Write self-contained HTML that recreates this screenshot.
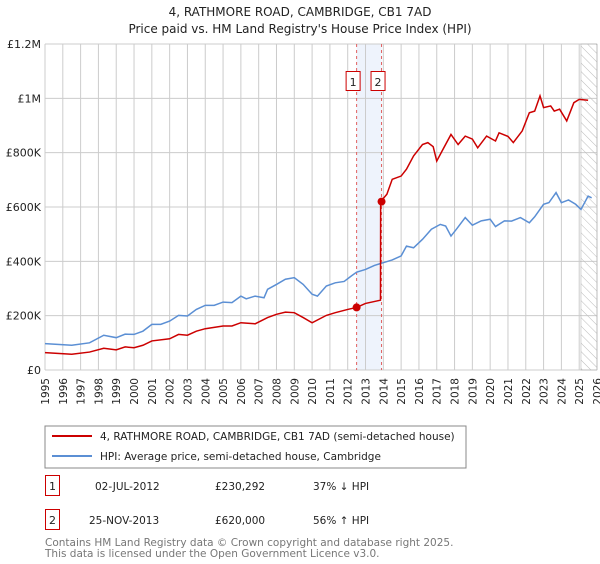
<!DOCTYPE html>
<html><head><meta charset="utf-8"><style>
body{margin:0;background:#fff;font-family:"DejaVu Sans","Liberation Sans",sans-serif;}
svg text{font-family:"DejaVu Sans","Liberation Sans",sans-serif;}
</style></head><body>
<svg id="c" width="600" height="560" xmlns="http://www.w3.org/2000/svg">
<defs><pattern id="hatch" width="6" height="6" patternUnits="userSpaceOnUse" patternTransform="rotate(-45)"><line x1="0" y1="0" x2="0" y2="6" stroke="#bbb" stroke-width="1"/></pattern></defs>
<text x="300" y="16" text-anchor="middle" font-size="12" fill="#222">4, RATHMORE ROAD, CAMBRIDGE, CB1 7AD</text>
<text x="300" y="33" text-anchor="middle" font-size="12" fill="#222">Price paid vs. HM Land Registry's House Price Index (HPI)</text>
<g id="grid"></g><g id="marks"></g><g id="axes"></g>
<rect x="45" y="426" width="421" height="42" fill="#fff" stroke="#888"/>
<line x1="52" y1="436" x2="92" y2="436" stroke="#cc0000" stroke-width="2"/>
<text x="100" y="440" font-size="10.5" fill="#222">4, RATHMORE ROAD, CAMBRIDGE, CB1 7AD (semi-detached house)</text>
<line x1="52" y1="456" x2="92" y2="456" stroke="#5b8fd4" stroke-width="2"/>
<text x="100" y="460" font-size="10.5" fill="#222">HPI: Average price, semi-detached house, Cambridge</text>
<rect x="45.5" y="475.5" width="14" height="20" fill="#fff" stroke="#cc0000"/>
<text x="52.5" y="490" text-anchor="middle" font-size="11" fill="#222">1</text>
<text x="95" y="490" font-size="10.5" fill="#222">02-JUL-2012</text>
<text x="215" y="490" font-size="10.5" fill="#222">£230,292</text>
<text x="313" y="490" font-size="10.5" fill="#222">37% ↓ HPI</text>
<rect x="45.5" y="509.5" width="14" height="20" fill="#fff" stroke="#cc0000"/>
<text x="52.5" y="524" text-anchor="middle" font-size="11" fill="#222">2</text>
<text x="89" y="524" font-size="10.5" fill="#222">25-NOV-2013</text>
<text x="215" y="524" font-size="10.5" fill="#222">£620,000</text>
<text x="313" y="524" font-size="10.5" fill="#222">56% ↑ HPI</text>
<text x="45" y="546" font-size="10.5" fill="#777">Contains HM Land Registry data © Crown copyright and database right 2025.</text>
<text x="45" y="557" font-size="10.5" fill="#777">This data is licensed under the Open Government Licence v3.0.</text>
</svg>
<script>
const yTicks=[0,200000,400000,600000,800000,1000000,1200000];
const yTickLabels=["£0","£200K","£400K","£600K","£800K","£1M","£1.2M"];
const years=[1995,1996,1997,1998,1999,2000,2001,2002,2003,2004,2005,2006,2007,2008,2009,2010,2011,2012,2013,2014,2015,2016,2017,2018,2019,2020,2021,2022,2023,2024,2025,2026];
const hpiT=[1995,1996.5,1997.5,1998.3,1999,1999.5,2000,2000.5,2001,2001.5,2002,2002.5,2003,2003.5,2004,2004.5,2005,2005.5,2006,2006.3,2006.8,2007.3,2007.5,2008,2008.5,2009,2009.5,2010,2010.3,2010.8,2011.3,2011.8,2012.2,2012.5,2013,2013.5,2014,2014.5,2015,2015.3,2015.7,2016.2,2016.7,2017.2,2017.5,2017.8,2018.1,2018.6,2019,2019.5,2020,2020.3,2020.8,2021.2,2021.7,2022.2,2022.5,2023,2023.3,2023.7,2024,2024.4,2024.8,2025.1,2025.5,2025.7];
const hpiV=[97000,91000,100000,128000,119000,132000,131000,143000,168000,168000,180000,201000,199000,223000,238000,238000,250000,248000,272000,262000,272000,266000,297000,315000,334000,340000,315000,279000,272000,309000,321000,326000,346000,360000,370000,385000,395000,405000,420000,456000,450000,481000,518000,536000,530000,493000,518000,561000,533000,549000,555000,528000,549000,548000,561000,542000,564000,610000,616000,653000,616000,626000,610000,591000,640000,634000];
const propT=[1995,1996.5,1997.5,1998.3,1999,1999.5,2000,2000.5,2001,2002,2002.5,2003,2003.5,2004,2005,2005.5,2006,2006.8,2007.5,2008,2008.5,2009,2009.5,2010,2010.8,2011.3,2012,2012.5,2013,2013.84,2013.85,2014.2,2014.5,2015,2015.3,2015.7,2016.2,2016.5,2016.8,2017.0,2017.3,2017.8,2018.2,2018.6,2019,2019.3,2019.8,2020.3,2020.5,2021,2021.3,2021.8,2022.2,2022.5,2022.8,2023,2023.4,2023.6,2023.9,2024.3,2024.7,2025,2025.5];
const propV=[64000,58000,66000,80000,74000,85000,82000,91000,107000,115000,131000,128000,143000,152000,162000,162000,174000,170000,193000,205000,213000,211000,193000,174000,201000,211000,223000,230292,245000,257000,620000,647000,702000,714000,739000,788000,830000,837000,822000,769000,806000,867000,830000,861000,850000,818000,861000,843000,873000,860000,837000,880000,947000,953000,1009000,966000,972000,953000,960000,917000,984000,996000,993000];
const saleT=[2012.5,2013.9];
const saleV=[230292,620000];
const saleLabels=["1","2"];
const NS="http://www.w3.org/2000/svg";
const X0=45,X1=597,Y0=370,Y1=44;
const xs=t=>X0+(t-1995)/(2026-1995)*(X1-X0);
const ys=v=>Y0-v/1200000*(Y0-Y1);
function mk(p,tag,at){const e=document.createElementNS(NS,tag);for(const k in at)e.setAttribute(k,at[k]);p.appendChild(e);return e;}
const grid=document.getElementById('grid'),marks=document.getElementById('marks'),axes=document.getElementById('axes');
let band=mk(grid,'rect',{x:xs(saleT[0]),y:Y1,width:xs(saleT[1])-xs(saleT[0]),height:Y0-Y1,fill:'#eef3fc'});


years.forEach(y=>{let l=mk(grid,'line',{x1:xs(y),x2:xs(y),y1:Y1,y2:Y0,stroke:'#cccccc','stroke-width':1});


let t=mk(axes,'text',{x:0,y:0,'font-size':10.5,fill:'#222','text-anchor':'end',transform:`translate(${xs(y)+4},${Y0+8}) rotate(-90)`});t.textContent=y;

});
yTicks.forEach((v,i)=>{let l=mk(grid,'line',{x1:X0,x2:X1,y1:ys(v),y2:ys(v),stroke:'#cccccc','stroke-width':1});


let t=mk(axes,'text',{x:X0-4,y:ys(v)+4,'font-size':11,fill:'#222','text-anchor':'end'});t.textContent=yTickLabels[i];

});
let h=mk(grid,'rect',{x:xs(2025.1),y:Y1,width:X1-xs(2025.1),height:Y0-Y1,fill:'url(#hatch)',stroke:'#aaa','stroke-width':0.5});


saleT.forEach((t,i)=>{let l=mk(marks,'line',{x1:xs(t),x2:xs(t),y1:Y1,y2:Y0,stroke:'#e06060','stroke-width':1,'stroke-dasharray':'3,3'});

});
let pHpi=mk(marks,'polyline',{points:hpiT.map((t,i)=>xs(t)+','+ys(hpiV[i])).join(' '),fill:'none',stroke:'#5b8fd4','stroke-width':1.5});


let pProp=mk(marks,'polyline',{points:propT.map((t,i)=>xs(t)+','+ys(propV[i])).join(' '),fill:'none',stroke:'#cc0000','stroke-width':1.5});


saleT.forEach((t,i)=>{let c=mk(marks,'circle',{cx:xs(t),cy:ys(saleV[i]),r:4,fill:'#cc0000'});


let b=mk(marks,'rect',{x:xs(t)-10.5,y:71.5,width:14,height:19,fill:'#fff',stroke:'#cc0000'});


let tx=mk(marks,'text',{x:xs(t)-3.5,y:86,'font-size':11,fill:'#222','text-anchor':'middle'});tx.textContent=saleLabels[i];

});
</script>
</body></html>
